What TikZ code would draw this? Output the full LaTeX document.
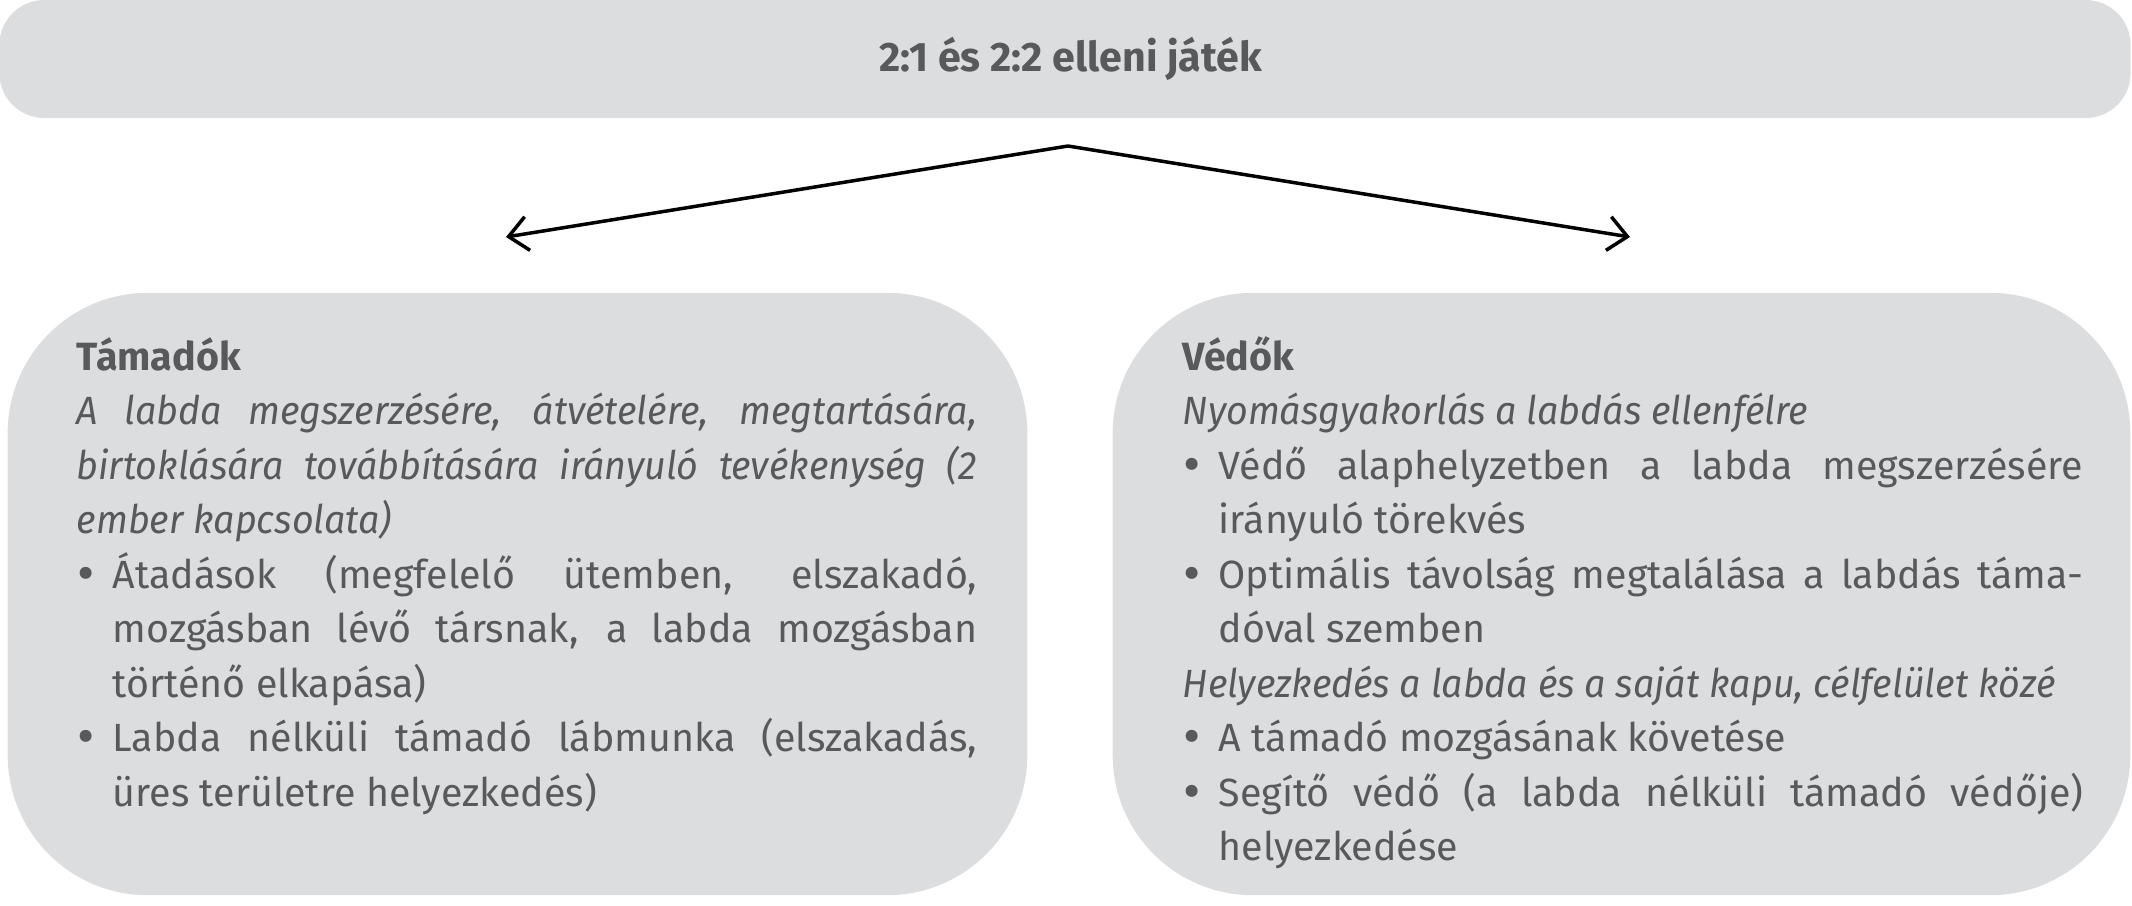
\documentclass[tikz,border=0pt]{standalone}
\usepackage{fontspec}
\setmainfont{Fira Sans}[ItalicFeatures={FakeStretch=0.955}]
\usetikzlibrary{arrows.meta}
\definecolor{boxgray}{HTML}{DCDDDF}
\definecolor{txtgray}{HTML}{58595B}
\newcommand\bitem{\par\hangindent=0.36cm\hangafter=1\noindent\makebox[0.36cm][l]{\hspace{0.01cm}\raisebox{-0.03cm}{\scalebox{1.35}{\textbullet}}}}
\newcommand\bodyfont{\fontsize{11.2pt}{15.5pt}\selectfont}
\tikzset{
  panel/.style={fill=boxgray, draw=none, inner sep=0pt},
  txt/.style={text=txtgray, inner sep=0pt, font=\bodyfont},
  arrowline/.style={draw=black, line width=0.035cm, -{Straight Barb[length=0.19cm,width=0.34cm,line width=0.035cm]}}
}
\begin{document}
\begin{tikzpicture}[x=0.01cm,y=-0.01cm]
\useasboundingbox (0,0) rectangle (2132,905);
% title box
\node[panel, minimum width=21.3cm, minimum height=1.18cm, rounded corners=0.45cm] (top) at (1065,59) {};
\node[txt, font=\fontsize{11.7pt}{14pt}\selectfont] (title) at (1071,59) {\textbf{2:1 és 2:2 elleni játék}};
% panels
\node[panel, minimum width=10.19cm, minimum height=6.02cm, rounded corners=1.4cm] (left) at (517.5,594) {};
\node[panel, minimum width=10.17cm, minimum height=6.02cm, rounded corners=1.4cm] (right) at (1621.5,594) {};
% arrows
\coordinate (split) at (1068,146);
\coordinate (ltip) at (506,237);
\coordinate (rtip) at (1630,237);
\draw[arrowline] (split) -- (ltip);
\draw[arrowline] (split) -- (rtip);
% left text
\node[txt, anchor=base west] (lefttext) at (76,370) {\parbox[t]{9cm}{\bodyfont\parindent=0pt
\textbf{Támadók}\par
\textit{A labda megszerzésére, átvételére, megtartására,\linebreak birtoklására továbbítására irányuló tevékenység (2\linebreak ember kapcsolata)}
\bitem Átadások (megfelelő ütemben, elszakadó,\linebreak mozgásban lévő társnak, a labda mozgásban\linebreak történő elkapása)
\bitem Labda nélküli támadó lábmunka (elszakadás,\linebreak üres területre helyezkedés)\par}};
% right text
\node[txt, anchor=base west] (righttext) at (1182,370) {\parbox[t]{9cm}{\bodyfont\parindent=0pt
\textbf{Védők}\par
\textit{Nyomásgyakorlás a labdás ellenfélre}
\bitem Védő alaphelyzetben a labda megszerzésére\linebreak irányuló törekvés
\bitem Optimális távolság megtalálása a labdás táma-\linebreak dóval szemben
\par\noindent\textit{Helyezkedés a labda és a saját kapu, célfelület közé}
\bitem A támadó mozgásának követése
\bitem Segítő védő (a labda nélküli támadó védője)\linebreak helyezkedése\par}};
\end{tikzpicture}
\end{document}
